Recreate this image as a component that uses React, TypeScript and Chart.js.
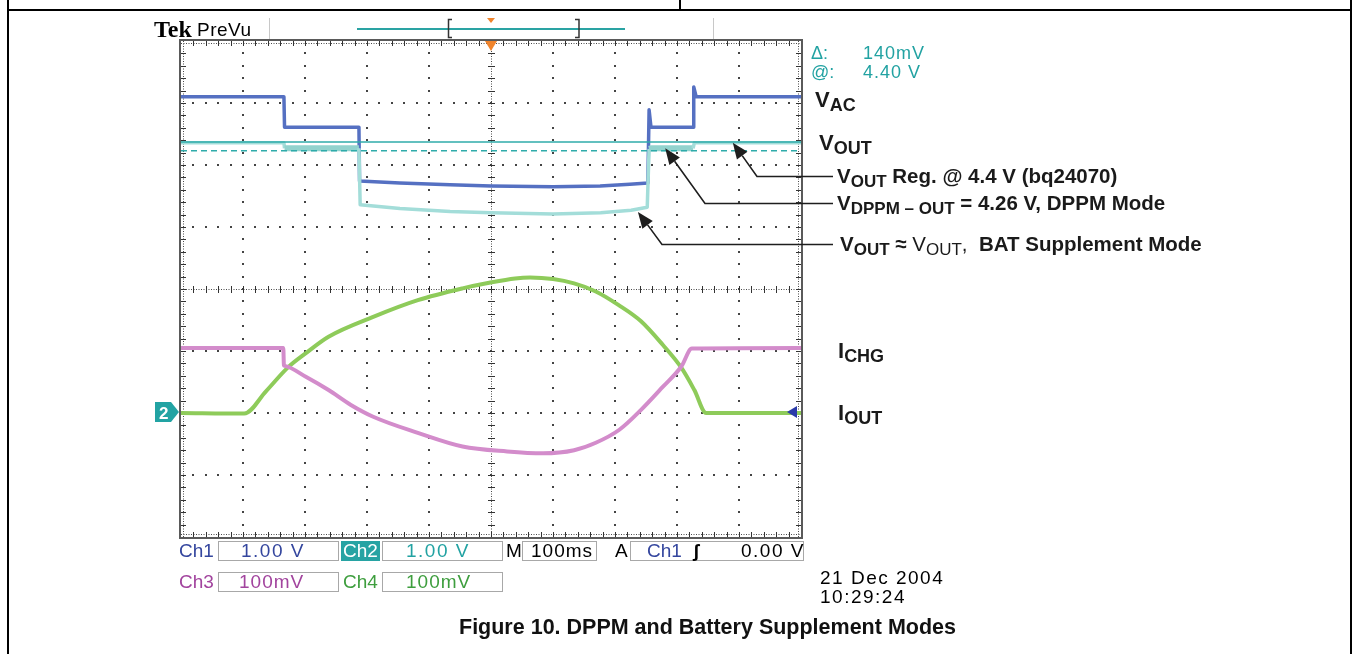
import React, { useEffect, useRef } from "react";
import { Chart, registerables } from "chart.js";

Chart.register(...registerables);

// ---------- scope frame (time in ms, vertical in screen divisions from centre) ----------
const X_MIN = 0;
const X_MAX = 1000; // 10 div × 100 ms/div
const X_DIV = 100;
const Y_MIN = -4;
const Y_MAX = 4;

// Ch1 – V_AC (1.00 V/div)
const ch1Time = [0, 166, 167, 287, 288, 353, 434, 500, 600, 676, 724, 753, 755, 758, 826, 827, 831, 1000];
const ch1Vac = [3.1, 3.1, 2.61, 2.61, 1.74, 1.71, 1.68, 1.66, 1.65, 1.66, 1.69, 1.71, 2.89, 2.61, 2.61, 3.26, 3.1, 3.1];

// Ch2 – V_OUT (1.00 V/div)
const ch2Time = [0, 166, 167, 287, 289, 353, 434, 500, 600, 677, 726, 752, 755, 758, 826, 828, 1000];
const ch2Vout = [2.36, 2.36, 2.27, 2.27, 1.36, 1.3, 1.25, 1.23, 1.21, 1.23, 1.27, 1.32, 2.26, 2.27, 2.27, 2.36, 2.36];
const dppmIntervals = [
  [166, 288],
  [755, 827],
];

// Ch3 – I_CHG (100 mV/div)
const ch3Time = [0, 165, 166, 167, 202, 238, 274, 310, 382, 454, 526, 584, 634, 669, 707, 742, 777, 807, 824, 1000];
const ch3Ichg = [-0.95, -0.95, -1.23, -1.24, -1.42, -1.63, -1.87, -2.06, -2.32, -2.54, -2.62, -2.65, -2.6, -2.48, -2.27, -1.95, -1.58, -1.25, -0.96, -0.95];

// Ch4 – I_OUT (100 mV/div)
const ch4Time = [0, 102, 137, 173, 202, 238, 310, 382, 454, 497, 539, 563, 600, 634, 669, 706, 742, 777, 807, 828, 847, 1000];
const ch4Iout = [-2.0, -2.01, -1.65, -1.26, -1.03, -0.77, -0.45, -0.18, 0.01, 0.1, 0.17, 0.185, 0.16, 0.09, -0.04, -0.26, -0.52, -0.9, -1.27, -1.63, -2.0, -2.0];

// cursors: 4.40 V and 4.26 V on Ch2 (Δ 140 mV)
const cursorLevels = [2.37, 2.23];
const triggerTime = 500;
const ch2GroundLevel = -1.98;
const ch1TriggerLevel = -1.98;

// annotation arrow tips (time ms, divisions)
const arrowTipTimes = [890, 781, 737];
const arrowTipLevels = [2.36, 2.27, 1.24];

// status-bar texts
const channelNames = ["Ch1", "Ch2", "Ch3", "Ch4"];
const channelScales = ["1.00 V", "1.00 V", "100mV", "100mV"];
const timeScale = "100ms";
const triggerLevelText = "0.00 V";
const dateText = ["21 Dec 2004", "10:29:24"];

const C1 = "#5570c2";
const C1T = "#34469e";
const C2 = "#a3ddd9";
const C2T = "#22a2a2";
const C3 = "#d38ccb";
const C3T = "#a2449e";
const C4 = "#8ecb5a";
const C4T = "#3e9e3e";

const SCOPE_FONT = '"Liberation Sans", Arial, sans-serif';
const DOC_FONT = '"Liberation Sans", Arial, Helvetica, sans-serif';

const pts = (xs: number[], ys: number[]) => xs.map((x, i) => ({ x, y: ys[i] }));

function line(ctx: CanvasRenderingContext2D, x1: number, y1: number, x2: number, y2: number) {
  ctx.beginPath();
  ctx.moveTo(x1, y1);
  ctx.lineTo(x2, y2);
  ctx.stroke();
}

const scopePlugin = {
  id: "scope",
  beforeDraw(chart: any) {
    const { ctx, scales } = chart;
    const tx = Math.round(scales.x.getPixelForValue(triggerTime));
    ctx.save();
    // document frame
    ctx.fillStyle = "#000";
    ctx.fillRect(7, 9, 1345, 2);
    ctx.fillRect(7, 0, 2, 654);
    ctx.fillRect(1350, 0, 2, 654);
    ctx.fillRect(679, 0, 2, 10);
    // header bar
    ctx.fillStyle = "#c8c8c8";
    ctx.fillRect(269, 18, 1, 22);
    ctx.fillRect(713, 18, 1, 22);
    ctx.fillStyle = "#2aa3a3";
    ctx.fillRect(357, 28, 268, 2);
    ctx.strokeStyle = "#333";
    ctx.lineWidth = 1.5;
    ctx.beginPath();
    ctx.moveTo(452, 19.5);
    ctx.lineTo(448.5, 19.5);
    ctx.lineTo(448.5, 37.5);
    ctx.lineTo(452, 37.5);
    ctx.stroke();
    ctx.beginPath();
    ctx.moveTo(575, 19.5);
    ctx.lineTo(579, 19.5);
    ctx.lineTo(579, 37.5);
    ctx.lineTo(575, 37.5);
    ctx.stroke();
    ctx.fillStyle = "#f0842c";
    ctx.beginPath();
    ctx.moveTo(tx - 4, 18);
    ctx.lineTo(tx + 4, 18);
    ctx.lineTo(tx, 23);
    ctx.closePath();
    ctx.fill();
    ctx.restore();
  },
  beforeDatasetsDraw(chart: any) {
    const { ctx, chartArea: a, scales } = chart;
    const xs = scales.x;
    const ys = scales.y;
    const majX: number[] = [];
    const majY: number[] = [];
    for (let v = X_MIN; v <= X_MAX; v += X_DIV) majX.push(xs.getPixelForValue(v));
    for (let v = Y_MAX; v >= Y_MIN; v -= 1) majY.push(ys.getPixelForValue(v));
    const mx = (majX[1] - majX[0]) / 5;
    const my = (majY[1] - majY[0]) / 5;
    const cx = xs.getPixelForValue((X_MIN + X_MAX) / 2);
    const cy = ys.getPixelForValue(0);
    ctx.save();
    // dotted graticule
    ctx.fillStyle = "#444";
    majX.forEach((px, i) => {
      if (i === 0 || i === majX.length - 1 || Math.abs(px - cx) < 1) return;
      for (let k = 1; k < 40; k++) ctx.fillRect(Math.round(px) - 1, Math.round(a.top + k * my) - 1, 2, 2);
    });
    majY.forEach((py, i) => {
      if (i === 0 || i === majY.length - 1 || Math.abs(py - cy) < 1) return;
      for (let k = 1; k < 50; k++) ctx.fillRect(Math.round(a.left + k * mx) - 1, Math.round(py) - 1, 2, 2);
    });
    // centre cross
    ctx.strokeStyle = "#4a4a4a";
    ctx.lineWidth = 1;
    ctx.setLineDash([1, 1.5]);
    line(ctx, Math.round(cx) + 0.5, a.top, Math.round(cx) + 0.5, a.bottom);
    line(ctx, a.left, Math.round(cy) + 0.5, a.right, Math.round(cy) + 0.5);
    // inner dotted border
    line(ctx, a.left + 2.5, a.top, a.left + 2.5, a.bottom);
    line(ctx, a.right - 2.5, a.top, a.right - 2.5, a.bottom);
    line(ctx, a.left, a.top + 2.5, a.right, a.top + 2.5);
    line(ctx, a.left, a.bottom - 2.5, a.right, a.bottom - 2.5);
    ctx.setLineDash([]);
    ctx.strokeStyle = "#333";
    for (let k = 1; k < 50; k++) {
      const px = Math.round(a.left + k * mx) + 0.5;
      line(ctx, px, cy - 3, px, cy + 4);
      line(ctx, px, a.top, px, a.top + 5);
      line(ctx, px, a.bottom, px, a.bottom - 5);
    }
    for (let k = 1; k < 40; k++) {
      const py = Math.round(a.top + k * my) + 0.5;
      line(ctx, cx - 3, py, cx + 4, py);
      line(ctx, a.left, py, a.left + 5, py);
      line(ctx, a.right, py, a.right - 5, py);
    }
    // outer border
    ctx.strokeStyle = "#5a5a5a";
    ctx.lineWidth = 2;
    ctx.strokeRect(a.left - 1, a.top - 1, a.right - a.left + 2, a.bottom - a.top + 2);
    ctx.restore();
  },
  afterDatasetsDraw(chart: any) {
    const { ctx, chartArea: a, scales } = chart;
    const xs = scales.x;
    const ys = scales.y;
    ctx.save();
    // cursors
    ctx.strokeStyle = "#2fabaa";
    ctx.lineWidth = 1.5;
    const c0 = ys.getPixelForValue(cursorLevels[0]);
    const c1 = ys.getPixelForValue(cursorLevels[1]);
    line(ctx, a.left, c0, a.right, c0);
    ctx.setLineDash([6, 4]);
    line(ctx, a.left, c1, a.right, c1);
    ctx.setLineDash([]);
    // trigger position marker
    const tx = xs.getPixelForValue(triggerTime);
    ctx.fillStyle = "#f0842c";
    ctx.beginPath();
    ctx.moveTo(tx - 6, a.top);
    ctx.lineTo(tx + 6, a.top);
    ctx.lineTo(tx, a.top + 10);
    ctx.closePath();
    ctx.fill();
    // ch2 ground marker
    const gy = Math.round(ys.getPixelForValue(ch2GroundLevel));
    ctx.fillStyle = "#22a3a3";
    ctx.beginPath();
    ctx.moveTo(155, gy - 10);
    ctx.lineTo(171, gy - 10);
    ctx.lineTo(179, gy);
    ctx.lineTo(171, gy + 10);
    ctx.lineTo(155, gy + 10);
    ctx.closePath();
    ctx.fill();
    // ch1 trigger-level marker
    const ty = Math.round(ys.getPixelForValue(ch1TriggerLevel));
    ctx.fillStyle = "#2a3aa8";
    ctx.beginPath();
    ctx.moveTo(787, ty);
    ctx.lineTo(797, ty - 6);
    ctx.lineTo(797, ty + 6);
    ctx.closePath();
    ctx.fill();
    // annotation arrows
    const elbows = [
      [757, 176],
      [705, 203],
      [662, 244],
    ];
    ctx.strokeStyle = "#1e1e1e";
    ctx.fillStyle = "#1e1e1e";
    ctx.lineWidth = 1.6;
    arrowTipTimes.forEach((t, i) => {
      const tipX = xs.getPixelForValue(t);
      const tipY = ys.getPixelForValue(arrowTipLevels[i]);
      const [ex, ey] = elbows[i];
      ctx.beginPath();
      ctx.moveTo(833, ey + 0.5);
      ctx.lineTo(ex, ey + 0.5);
      const ang = Math.atan2(tipY - ey, tipX - ex);
      const L = 16;
      const W = 6.5;
      const bx = tipX - L * Math.cos(ang);
      const by = tipY - L * Math.sin(ang);
      ctx.lineTo(bx, by);
      ctx.stroke();
      ctx.beginPath();
      ctx.moveTo(tipX, tipY);
      ctx.lineTo(bx + W * Math.sin(ang), by - W * Math.cos(ang));
      ctx.lineTo(bx - W * Math.sin(ang), by + W * Math.cos(ang));
      ctx.closePath();
      ctx.fill();
    });
    ctx.restore();
  },
};

function Txt(props: {
  x: number;
  y: number;
  size: number;
  color?: string;
  bold?: boolean;
  font?: string;
  ls?: number;
  children: React.ReactNode;
}) {
  const { x, y, size, color = "#000", bold = false, font = SCOPE_FONT, ls = 0, children } = props;
  return (
    <div
      style={{
        position: "absolute",
        left: x,
        top: y - Math.round(size * 0.85),
        fontSize: size,
        lineHeight: `${size}px`,
        color,
        fontWeight: bold ? 700 : 400,
        fontFamily: font,
        whiteSpace: "pre",
        letterSpacing: ls,
      }}
    >
      {children}
    </div>
  );
}

function Box(props: { x1: number; x2: number; top: number; bg?: string }) {
  return (
    <div
      style={{
        position: "absolute",
        left: props.x1,
        top: props.top,
        width: props.x2 - props.x1,
        height: 20,
        boxSizing: "border-box",
        border: props.bg ? "none" : "1px solid #a8a8a8",
        background: props.bg || "transparent",
      }}
    />
  );
}

const Sub = (p: { children: React.ReactNode; size?: number }) => (
  <span style={{ fontSize: p.size || 17, position: "relative", top: 4 }}>{p.children}</span>
);

export default function App() {
  const ref = useRef<HTMLCanvasElement>(null);
  useEffect(() => {
    const inDppm = (x0: number, x1: number, y0: number, y1: number) =>
      Math.abs(y0 - y1) < 0.05 && dppmIntervals.some(([lo, hi]) => x0 >= lo && x1 <= hi);
    const chart = new Chart(ref.current as HTMLCanvasElement, {
      type: "line",
      data: {
        datasets: [
          {
            label: "Ch3 I_CHG",
            data: pts(ch3Time, ch3Ichg),
            borderColor: C3,
            borderWidth: 4,
            cubicInterpolationMode: "monotone",
          },
          {
            label: "Ch4 I_OUT",
            data: pts(ch4Time, ch4Iout),
            borderColor: C4,
            borderWidth: 4,
            cubicInterpolationMode: "monotone",
          },
          {
            label: "Ch2 V_OUT",
            data: pts(ch2Time, ch2Vout),
            borderColor: C2,
            borderWidth: 3.5,
            tension: 0,
            segment: {
              borderWidth: (c: any) => (inDppm(c.p0.parsed.x, c.p1.parsed.x, c.p0.parsed.y, c.p1.parsed.y) ? 6 : 3.5),
              borderColor: (c: any) => (inDppm(c.p0.parsed.x, c.p1.parsed.x, c.p0.parsed.y, c.p1.parsed.y) ? "#92d3ce" : C2),
            },
          },
          {
            label: "Ch1 V_AC",
            data: pts(ch1Time, ch1Vac),
            borderColor: C1,
            borderWidth: 3.5,
            tension: 0,
          },
        ],
      },
      options: {
        animation: false,
        responsive: false,
        devicePixelRatio: 1,
        layout: { padding: { left: 181, right: 553, top: 41, bottom: 117 } },
        elements: { point: { radius: 0 }, line: { borderJoinStyle: "round", fill: false } },
        scales: {
          x: { type: "linear", min: X_MIN, max: X_MAX, display: false },
          y: { type: "linear", min: Y_MIN, max: Y_MAX, display: false },
        },
        plugins: { legend: { display: false }, tooltip: { enabled: false } },
      } as any,
      plugins: [scopePlugin],
    });
    return () => chart.destroy();
  }, []);

  const R1 = 557;
  const R2 = 588;
  return (
    <div style={{ position: "fixed", left: 0, top: 0, width: 1354, height: 654, background: "#fff", overflow: "hidden" }}>
      <canvas ref={ref} width={1354} height={654} style={{ position: "absolute", left: 0, top: 0, width: 1354, height: 654 }} />

      {/* header */}
      <Txt x={154} y={37} size={24} bold font='"Liberation Serif", "Times New Roman", serif'>Tek</Txt>
      <Txt x={197} y={36} size={19} ls={0.5}>PreVu</Txt>

      {/* cursor readout */}
      <Txt x={811} y={59} size={18} color={C2T}>Δ:</Txt>
      <Txt x={863} y={59} size={18} color={C2T} ls={1}>140mV</Txt>
      <Txt x={811} y={78} size={18} color={C2T}>@:</Txt>
      <Txt x={863} y={78} size={18} color={C2T} ls={1}>4.40 V</Txt>

      {/* ground marker label */}
      <Txt x={159} y={419} size={17} bold color="#fff">2</Txt>

      {/* right-side annotations */}
      <Txt x={815} y={108} size={22} bold font={DOC_FONT} color="#1a1a1a">V<Sub size={18}>AC</Sub></Txt>
      <Txt x={819} y={151} size={22} bold font={DOC_FONT} color="#1a1a1a">V<Sub size={18}>OUT</Sub></Txt>
      <Txt x={837} y={183} size={20.5} bold font={DOC_FONT} color="#1a1a1a">
        V<Sub>OUT</Sub> Reg. @ 4.4 V (bq24070)
      </Txt>
      <Txt x={837} y={210} size={20.5} bold font={DOC_FONT} color="#1a1a1a">
        V<Sub>DPPM – OUT</Sub> = 4.26 V, DPPM Mode
      </Txt>
      <Txt x={840} y={251} size={20.5} bold font={DOC_FONT} color="#1a1a1a">
        V<Sub>OUT</Sub> ≈ <span style={{ fontWeight: 400 }}>V<Sub>OUT</Sub>,</span>  BAT Supplement Mode
      </Txt>
      <Txt x={838} y={359} size={22} bold font={DOC_FONT} color="#1a1a1a">I<Sub size={18}>CHG</Sub></Txt>
      <Txt x={838} y={421} size={22} bold font={DOC_FONT} color="#1a1a1a">I<Sub size={18}>OUT</Sub></Txt>

      {/* status bar row 1 */}
      <Txt x={179} y={R1} size={19} color={C1T}>{channelNames[0]}</Txt>
      <Box x1={218} x2={339} top={541} />
      <Txt x={241} y={R1} size={19} color={C1T} ls={1.5}>{channelScales[0]}</Txt>
      <Box x1={341} x2={380} top={541} bg="#27a3a3" />
      <Txt x={343} y={R1} size={19} color="#fff">{channelNames[1]}</Txt>
      <Box x1={382} x2={503} top={541} />
      <Txt x={406} y={R1} size={19} color={C2T} ls={1.5}>{channelScales[1]}</Txt>
      <Txt x={506} y={R1} size={19}>M</Txt>
      <Box x1={522} x2={597} top={541} />
      <Txt x={531} y={R1} size={19} ls={1}>{timeScale}</Txt>
      <Txt x={615} y={R1} size={19}>A</Txt>
      <Box x1={630} x2={804} top={541} />
      <Txt x={647} y={R1} size={19} color={C1T}>{channelNames[0]}</Txt>
      <Txt x={693} y={R1} size={19} bold>ʃ</Txt>
      <Txt x={741} y={R1} size={19} ls={1.5}>{triggerLevelText}</Txt>

      {/* status bar row 2 */}
      <Txt x={179} y={R2} size={19} color={C3T}>{channelNames[2]}</Txt>
      <Box x1={218} x2={339} top={572} />
      <Txt x={239} y={R2} size={19} color={C3T} ls={1}>{channelScales[2]}</Txt>
      <Txt x={343} y={R2} size={19} color={C4T}>{channelNames[3]}</Txt>
      <Box x1={382} x2={503} top={572} />
      <Txt x={406} y={R2} size={19} color={C4T} ls={1}>{channelScales[3]}</Txt>
      <Txt x={820} y={584} size={19} ls={1.5}>{dateText[0]}</Txt>
      <Txt x={820} y={603} size={19} ls={1.5}>{dateText[1]}</Txt>

      {/* caption */}
      <Txt x={459} y={635} size={21.5} bold font={DOC_FONT} color="#111">Figure 10. DPPM and Battery Supplement Modes</Txt>
    </div>
  );
}
